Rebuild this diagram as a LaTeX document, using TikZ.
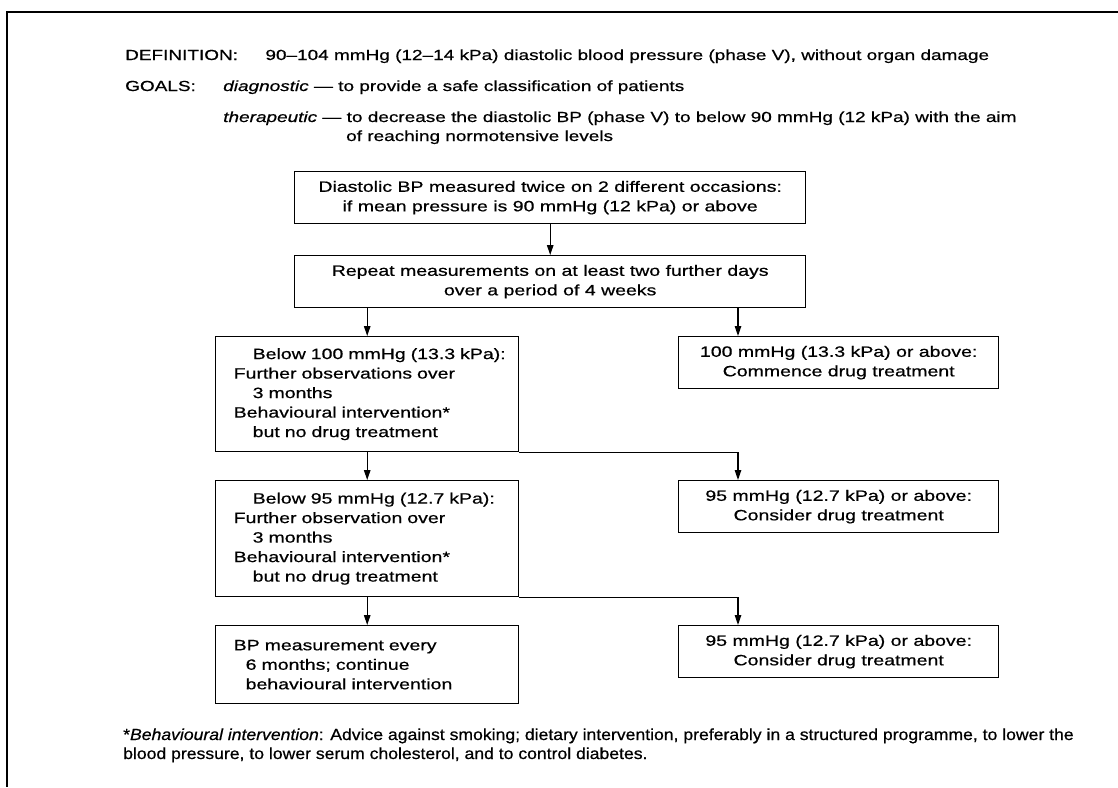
\documentclass[tikz,border=0pt]{standalone}
\usepackage{fontspec}
\setmainfont{Liberation Sans}[FakeStretch=1.3, FakeBold=0.6]
\newfontfamily\notefamily{Liberation Sans}[FakeStretch=1.1, FakeBold=0.6]
\usetikzlibrary{arrows.meta}

\begin{document}
\begin{tikzpicture}[x=1pt, y=-1pt,
    txt/.style={anchor=base west, inner sep=0pt, font=\topfont},
    box/.style={draw, line width=1.4pt, inner sep=0pt, anchor=north west, font=\boxfont},
    leftbox/.style={box, text width=303pt, align=left},
    rightbox/.style={box, minimum width=320pt, minimum height=52pt, align=center},
    flow/.style={line width=1.2pt, -{Triangle[length=10pt, width=6.5pt]}}]
    \def\topfont{\fontsize{14.6}{19}\selectfont}
    \def\boxfont{\fontsize{15}{19.5}\selectfont}
    \def\notefont{\notefamily\fontsize{16}{19}\selectfont}
    \def\indA{\hspace*{18pt}}
    \def\indB{\hspace*{37pt}}

    \useasboundingbox (0,0) rectangle (1118,787);

    % Frame
    \draw[line width=2.4pt] (6,12) -- (1118,12);
    \draw[line width=1.4pt] (7,12) -- (7,787);

    % Heading
    \node[txt] (deflabel) at (125,60) {DEFINITION:};
    \node[txt] (deftext) at ([xshift=27pt]deflabel.base east) {90--104 mmHg (12--14 kPa) diastolic blood pressure (phase V), without organ damage};
    \node[txt] (goallabel) at (125,91) {GOALS:};
    \node[txt] (diag) at ([xshift=27pt]goallabel.base east) {\textit{diagnostic} --- to provide a safe classification of patients};
    \node[txt] (thera) at (diag.base west |- 0,122) {\textit{therapeutic} --- to decrease the diastolic BP (phase V) to below 90 mmHg (12 kPa) with the aim};
    \node[txt] (thera2) at (346,141) {of reaching normotensive levels};

    % Boxes
    \node[box, minimum width=511pt, minimum height=52pt, align=center] (measure) at (294,171)
        {Diastolic BP measured twice on 2 different occasions:\\if mean pressure is 90 mmHg (12 kPa) or above};
    \node[box, minimum width=511pt, minimum height=52pt, align=center] (repeat) at (294,255)
        {Repeat measurements on at least two further days\\over a period of 4 weeks};

    \node[leftbox, minimum height=115pt] (below100) at (215,336)
        {\indB Below 100 mmHg (13.3 kPa):\\\indA Further observations over\\\indB 3 months\\\indA Behavioural intervention*\\\indB but no drug treatment};
    \node[rightbox] (above100) at (678,336) {100 mmHg (13.3 kPa) or above:\\Commence drug treatment};

    \node[leftbox, minimum height=116pt] (below95) at (215,480)
        {\indB Below 95 mmHg (12.7 kPa):\\\indA Further observation over\\\indB 3 months\\\indA Behavioural intervention*\\\indB but no drug treatment};
    \node[rightbox] (consider1) at (678,480) {95 mmHg (12.7 kPa) or above:\\Consider drug treatment};

    \node[leftbox, minimum height=78pt] (bpcheck) at (215,625)
        {\indA BP measurement every\\\hspace*{30pt}6 months; continue\\\hspace*{30pt}behavioural intervention};
    \node[rightbox] (consider2) at (678,625) {95 mmHg (12.7 kPa) or above:\\Consider drug treatment};

    % Connectors
    \coordinate (drop) at (738,320);
    \draw[flow] (measure) -- (repeat);
    \draw[flow] (repeat.south -| below100.north) -- (below100.north);
    \draw[flow] (repeat.south -| drop) -- (drop |- above100.north);
    \draw[flow] (below100) -- (below95);
    \draw[flow] (below100.south east) -| (drop |- consider1.north);
    \draw[flow] (below95) -- (bpcheck);
    \draw[flow] (below95.south east) -| (drop |- consider2.north);

    % Footnote
    \node[txt, font=\notefont] (note1) at (123,740) {*\textit{Behavioural intervention}: Advice against smoking; dietary intervention, preferably in a structured programme, to lower the};
    \node[txt, font=\notefont] (note2) at (note1.base west |- 0,759) {blood pressure, to lower serum cholesterol, and to control diabetes.};

\end{tikzpicture}
\end{document}
